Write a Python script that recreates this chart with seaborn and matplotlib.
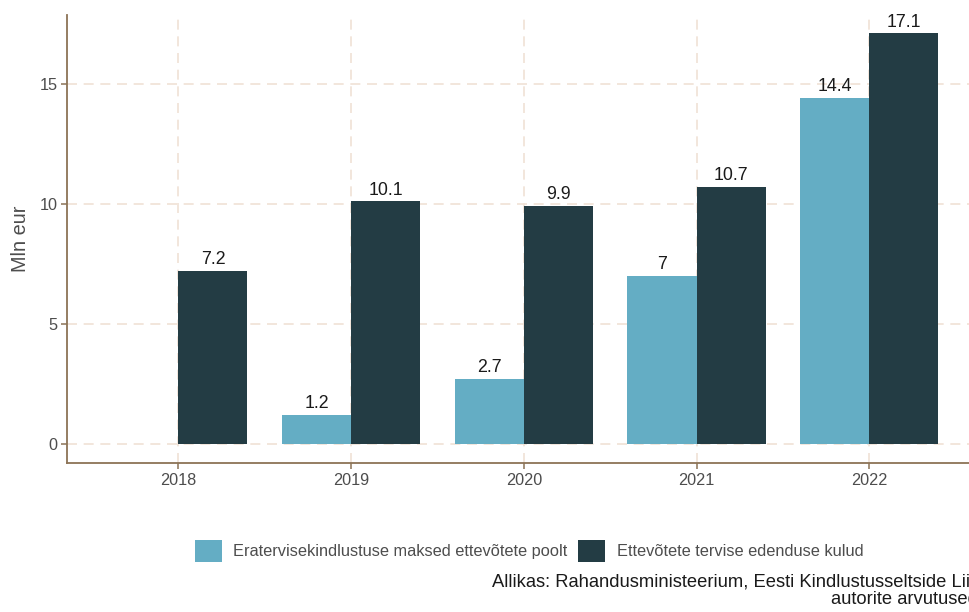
import pandas as pd
import matplotlib.pyplot as plt
import seaborn as sns
from matplotlib.patches import Patch

years = ["2018", "2019", "2020", "2021", "2022"]
series_names = ["Eratervisekindlustuse maksed ettevõtete poolt", "Ettevõtete tervise edenduse kulud"]
premiums = [None, 1.2, 2.7, 7.0, 14.4]
promotion = [7.2, 10.1, 9.9, 10.7, 17.1]
colors = ["#64ADC4", "#233C44"]

rows = []
for y, a, b in zip(years, premiums, promotion):
    if a is not None:
        rows.append({"aasta": y, "seeria": series_names[0], "väärtus": a})
    rows.append({"aasta": y, "seeria": series_names[1], "väärtus": b})
df = pd.DataFrame(rows)

sns.set_style("white")
plt.rcParams["font.family"] = ["Liberation Sans", "DejaVu Sans"]

spine_col = "#8C7356"
grid_col = "#F0E2D6"
text_col = "#4D4D4D"

fig = plt.figure(figsize=(9.69, 6.12), dpi=100)
ax = fig.add_axes([67 / 969, 1 - 463.3 / 612, 1 - 67 / 969 + 0.004, (463.3 - 15) / 612])

sns.barplot(data=df, x="aasta", y="väärtus", hue="seeria", order=years,
            hue_order=series_names, palette=colors, width=0.8, saturation=1,
            linewidth=0, ax=ax, legend=False, zorder=3)

# value labels on top of bars
for cont in ax.containers:
    labels = [f"{b.get_height():g}" for b in cont]
    ax.bar_label(cont, labels=labels, padding=2, fontsize=12.8, color="#1a1a1a")

ax.set_ylim(-0.82, 17.87)
ax.set_xlim(-0.645, 4.6)
ax.set_yticks([0, 5, 10, 15])
ax.grid(True, axis="both", color=grid_col, linestyle=(0, (6, 4)), linewidth=1.2, zorder=0)
ax.set_axisbelow(True)

for s in ["top", "right"]:
    ax.spines[s].set_visible(False)
for s in ["left", "bottom"]:
    ax.spines[s].set_color(spine_col)
    ax.spines[s].set_linewidth(1.3)

ax.tick_params(axis="both", bottom=True, left=True, colors=spine_col, length=4, width=1.1,
               labelsize=11.7, labelcolor=text_col, pad=3)
ax.set_xlabel("")
ax.set_ylabel("Mln eur", fontsize=14.3, color=text_col, labelpad=7)

handles = [Patch(facecolor=c, edgecolor="none") for c in colors]
fig.legend(handles, series_names, loc="center", bbox_to_anchor=(529 / 969, 1 - 551 / 612),
           ncol=2, frameon=False, fontsize=11.8, handlelength=1.65, handleheight=1.65,
           columnspacing=0.64, handletextpad=0.7, labelcolor=text_col)

# caption, cut at the right edge as in the source
fig.text(492 / 969, 1 - 582 / 612, "Allikas: Rahandusministeerium, Eesti Kindlustusseltside Liit,",
         fontsize=13.2, color="#1a1a1a", ha="left", va="center")
fig.text(831 / 969, 1 - 600 / 612, "autorite arvutused",
         fontsize=13.2, color="#1a1a1a", ha="left", va="center")

fig.savefig("out.png", dpi=100)
